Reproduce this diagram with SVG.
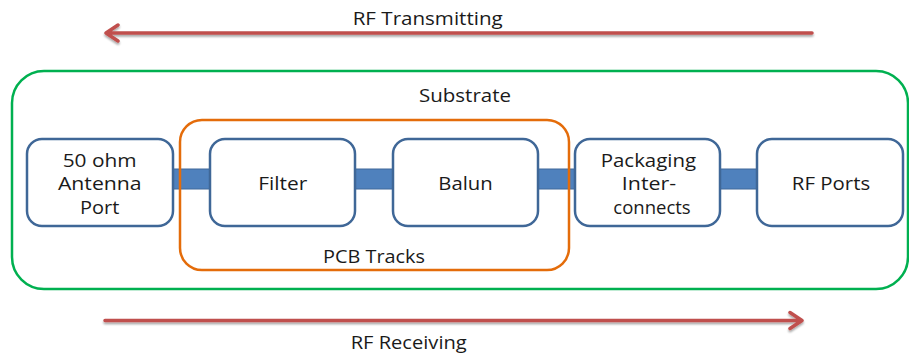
<svg xmlns="http://www.w3.org/2000/svg" width="909" height="356" viewBox="0 0 909 356">
<style>
text{font-family:"Open Sans","Liberation Sans",sans-serif;font-size:19px;fill:#1a1a1a;text-anchor:middle}
text.lbl{font-size:17.5px}
.node{fill:#fff;stroke:#3F6797;stroke-width:2.5}
.bar{fill:#4F81BD;stroke:#41699A;stroke-width:1}
.arrow{fill:none;stroke:#C0504D;stroke-width:3.5;stroke-linecap:round;stroke-linejoin:round}
</style>
<defs>
<filter id="sh" x="-5%" y="-50%" width="110%" height="200%"><feGaussianBlur in="SourceAlpha" stdDeviation="1.2"/><feOffset dx="0" dy="1.5"/><feComponentTransfer><feFuncA type="linear" slope="0.35"/></feComponentTransfer><feMerge><feMergeNode/><feMergeNode in="SourceGraphic"/></feMerge></filter>
</defs>
<g id="tx-arrow" filter="url(#sh)">
<path class="arrow" d="M812,33 H106 M118,25 L106,33 L118,41"/>
</g>
<text class="lbl" x="427.7" y="25" textLength="150" lengthAdjust="spacingAndGlyphs">RF Transmitting</text>
<g id="substrate">
<rect x="12" y="71" width="896" height="218" rx="32" fill="none" stroke="#00B050" stroke-width="2.5"/>
<text class="lbl" x="465" y="101.5" textLength="92" lengthAdjust="spacingAndGlyphs">Substrate</text>
</g>
<g id="connectors">
<rect class="bar" x="172" y="169" width="38" height="20"/>
<rect class="bar" x="354" y="169" width="40" height="20"/>
<rect class="bar" x="537" y="169" width="39" height="20"/>
<rect class="bar" x="719" y="169" width="39" height="20"/>
</g>
<g id="pcb-tracks">
<rect x="180" y="120" width="389" height="150" rx="22" fill="none" stroke="#E46C0A" stroke-width="2.5"/>
<text class="lbl" x="374" y="263" textLength="102" lengthAdjust="spacingAndGlyphs">PCB Tracks</text>
</g>
<g id="antenna">
<rect class="node" x="27" y="139" width="146" height="87" rx="15"/>
<text x="99.7" y="166.5" textLength="74" lengthAdjust="spacingAndGlyphs">50 ohm</text>
<text x="99.8" y="190" textLength="83.7" lengthAdjust="spacingAndGlyphs">Antenna</text>
<text x="99.7" y="214" textLength="39.3" lengthAdjust="spacingAndGlyphs">Port</text>
</g>
<g id="filter">
<rect class="node" x="210" y="139" width="145" height="87" rx="15"/>
<text x="282.8" y="190" textLength="49" lengthAdjust="spacingAndGlyphs">Filter</text>
</g>
<g id="balun">
<rect class="node" x="393" y="139" width="145" height="87" rx="15"/>
<text x="465.5" y="190" textLength="54.4" lengthAdjust="spacingAndGlyphs">Balun</text>
</g>
<g id="packaging">
<rect class="node" x="575" y="139" width="145" height="87" rx="15"/>
<text x="648.4" y="166.5" textLength="95.3" lengthAdjust="spacingAndGlyphs">Packaging</text>
<text x="649" y="190" textLength="54.3" lengthAdjust="spacingAndGlyphs">Inter-</text>
<text x="652" y="214" textLength="77.4" lengthAdjust="spacingAndGlyphs">connects</text>
</g>
<g id="rf-ports">
<rect class="node" x="757" y="139" width="146" height="87" rx="15"/>
<text x="831" y="190" textLength="78.3" lengthAdjust="spacingAndGlyphs">RF Ports</text>
</g>
<g id="rx-arrow" filter="url(#sh)">
<path class="arrow" d="M105,320.5 H802 M790,312.5 L802,320.5 L790,328.5"/>
</g>
<text class="lbl" x="408.7" y="349.3" textLength="116" lengthAdjust="spacingAndGlyphs">RF Receiving</text>
</svg>
